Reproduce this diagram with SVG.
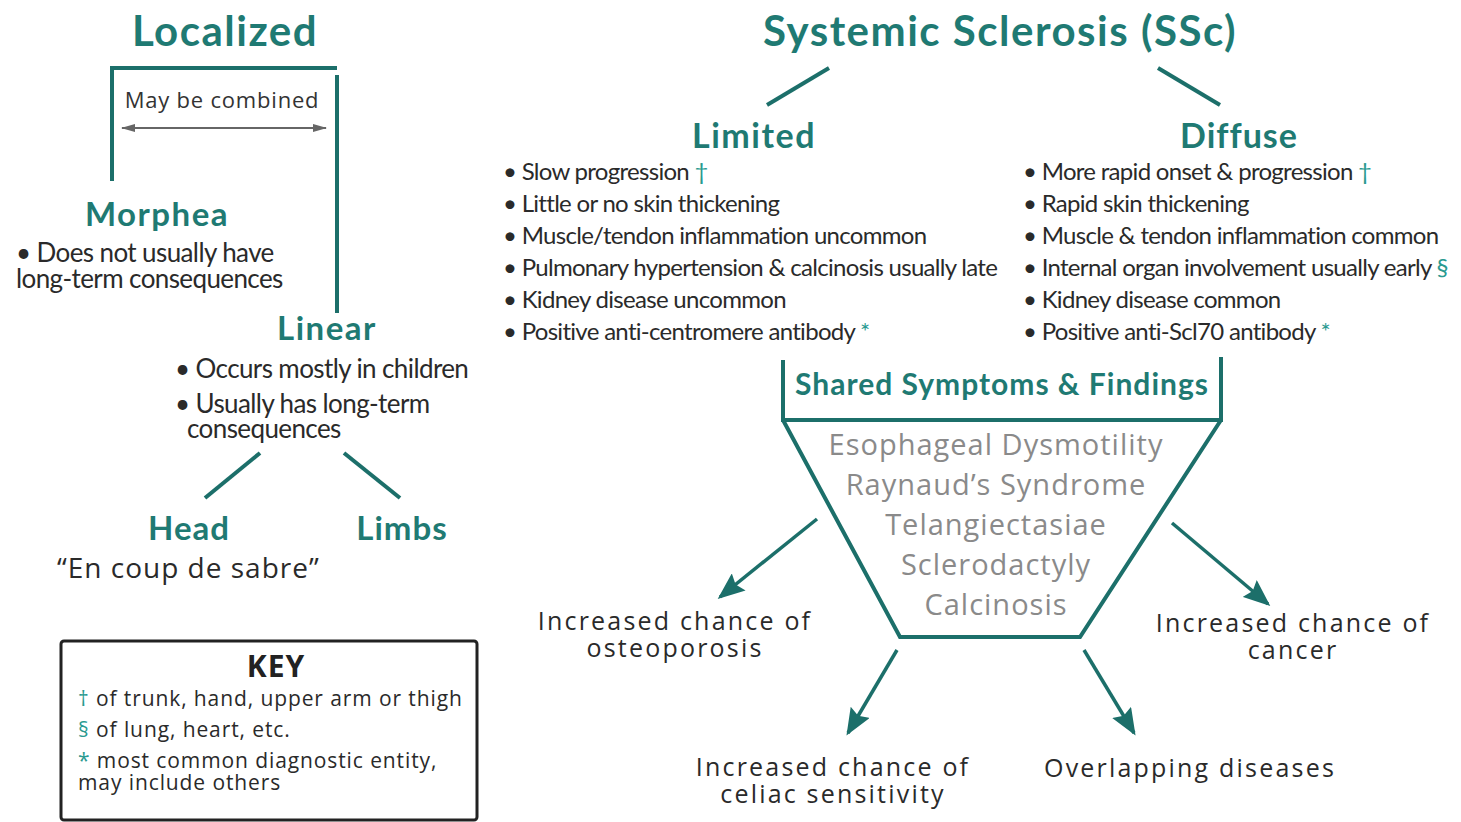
<svg xmlns="http://www.w3.org/2000/svg" width="1461" height="822" viewBox="0 0 1461 822">
<defs>
<style>
.h{font-family:Lato,"Open Sans",sans-serif;font-weight:bold;fill:#1f7a73;text-anchor:middle}
.b{font-family:Lato,"Open Sans",sans-serif;fill:#2a2a2a;font-size:24px;letter-spacing:-0.7px}
.bl{font-family:Lato,"Open Sans",sans-serif;fill:#2a2a2a;font-size:26px;letter-spacing:-0.6px}
.t{font-family:"Open Sans",Lato,sans-serif;fill:#2a2a2a;font-size:25px;letter-spacing:2.2px;text-anchor:middle}
.g{font-family:"Open Sans",Lato,sans-serif;fill:#8a8a8a;font-size:29px;letter-spacing:1px;text-anchor:middle}
.k{font-family:"Open Sans",Lato,sans-serif;fill:#2a2a2a;font-size:21px;letter-spacing:0.9px}
.m{fill:#2a9a90}
.ln{stroke:#1c6f6a;stroke-width:4;fill:none}
.ar{stroke:#1c6f6a;stroke-width:3.5;fill:none;marker-end:url(#ah)}
</style>
<marker id="ah" markerWidth="28" markerHeight="22" refX="24" refY="11" orient="auto" markerUnits="userSpaceOnUse" viewBox="0 0 28 22">
<path d="M0,0 L27,11 L0,22 L4,11 Z" fill="#1c6f6a"/>
</marker>
<marker id="ga" markerWidth="14" markerHeight="10" refX="13" refY="5" orient="auto" markerUnits="userSpaceOnUse">
<path d="M0,1 L14,5 L0,9 Z" fill="#666"/>
</marker>
<marker id="gs" markerWidth="14" markerHeight="10" refX="1" refY="5" orient="auto" markerUnits="userSpaceOnUse">
<path d="M14,1 L0,5 L14,9 Z" fill="#666"/>
</marker>
</defs>
<rect width="1461" height="822" fill="#ffffff"/>

<g id="connectors">
<path class="ln" d="M112,181 V68 H337"/>
<path class="ln" d="M337,75 V313"/>
<line x1="122" y1="128" x2="326" y2="128" stroke="#666" stroke-width="2" marker-start="url(#gs)" marker-end="url(#ga)"/>
<line class="ln" x1="260" y1="453" x2="205" y2="498"/>
<line class="ln" x1="344" y1="453" x2="400" y2="498"/>
<line class="ln" x1="829" y1="68" x2="767" y2="105"/>
<line class="ln" x1="1158" y1="68" x2="1220" y2="105"/>
<line class="ar" x1="817" y1="519" x2="720" y2="597"/>
<line class="ar" x1="1172" y1="523" x2="1268" y2="604"/>
<line class="ar" x1="897" y1="650" x2="848" y2="733"/>
<line class="ar" x1="1084" y1="650" x2="1134" y2="733"/>
</g>

<g id="localized"><text class="h" x="225" y="46" font-size="42" letter-spacing="1.5">Localized</text></g>
<g id="combined"><text x="222" y="108" font-family="'Open Sans',Lato,sans-serif" font-size="22" letter-spacing="0.8" fill="#333" text-anchor="middle">May be combined</text></g>

<g id="morphea">
<text class="h" x="157" y="226" font-size="33" letter-spacing="1.5">Morphea</text>
<text class="bl" x="16" y="262">• Does not usually have</text>
<text class="bl" x="16" y="288">long-term consequences</text>
</g>

<g id="linear">
<text class="h" x="327" y="340" font-size="33" letter-spacing="1.5">Linear</text>
<text class="bl" x="175" y="378">• Occurs mostly in children</text>
<text class="bl" x="175" y="413">• Usually has long-term</text>
<text class="bl" x="187" y="438">consequences</text>
</g>

<g id="head">
<text class="h" x="189" y="540" font-size="33" letter-spacing="1">Head</text>
<text x="57" y="578" font-family="'Open Sans',Lato,sans-serif" font-size="28" letter-spacing="1" fill="#2a2a2a">“En coup de sabre”</text>
</g>
<g id="limbs"><text class="h" x="402" y="540" font-size="33" letter-spacing="1">Limbs</text></g>

<g id="key">
<rect x="61" y="641" width="416" height="179" rx="3" fill="#fff" stroke="#222" stroke-width="3"/>
<text x="276" y="677" font-family="'Open Sans',Lato,sans-serif" font-weight="bold" font-size="30" letter-spacing="1" fill="#222" text-anchor="middle">KEY</text>
<text class="k" x="78" y="706"><tspan class="m">†</tspan> of trunk, hand, upper arm or thigh</text>
<text class="k" x="78" y="737"><tspan class="m">§</tspan> of lung, heart, etc.</text>
<text class="k" x="78" y="768"><tspan class="m">*</tspan> most common diagnostic entity,</text>
<text class="k" x="78" y="790">may include others</text>
</g>

<g id="ssc"><text class="h" x="1000" y="46" font-size="42" letter-spacing="1.5">Systemic Sclerosis (SSc)</text></g>

<g id="limited">
<text class="h" x="754" y="148" font-size="34" letter-spacing="1.5">Limited</text>
<text class="b" x="503" y="180">• Slow progression <tspan class="m">†</tspan></text>
<text class="b" x="503" y="212">• Little or no skin thickening</text>
<text class="b" x="503" y="244">• Muscle/tendon inflammation uncommon</text>
<text class="b" x="503" y="276">• Pulmonary hypertension &amp; calcinosis usually late</text>
<text class="b" x="503" y="308">• Kidney disease uncommon</text>
<text class="b" x="503" y="340">• Positive anti-centromere antibody <tspan class="m">*</tspan></text>
</g>

<g id="diffuse">
<text class="h" x="1239" y="148" font-size="34" letter-spacing="1">Diffuse</text>
<text class="b" x="1023" y="180">• More rapid onset &amp; progression <tspan class="m">†</tspan></text>
<text class="b" x="1023" y="212">• Rapid skin thickening</text>
<text class="b" x="1023" y="244">• Muscle &amp; tendon inflammation common</text>
<text class="b" x="1023" y="276">• Internal organ involvement usually early <tspan class="m">§</tspan></text>
<text class="b" x="1023" y="308">• Kidney disease common</text>
<text class="b" x="1023" y="340">• Positive anti-Scl70 antibody <tspan class="m">*</tspan></text>
</g>

<g id="shared">
<path class="ln" d="M783,360 V420 H1221 V357"/>
<path class="ln" d="M783,420 L900,637 H1080 L1221,420"/>
<text class="h" x="1002" y="395" font-size="30" letter-spacing="1">Shared Symptoms &amp; Findings</text>
<text class="g" x="996" y="455">Esophageal Dysmotility</text>
<text class="g" x="996" y="495">Raynaud’s Syndrome</text>
<text class="g" x="996" y="535">Telangiectasiae</text>
<text class="g" x="996" y="575">Sclerodactyly</text>
<text class="g" x="996" y="615">Calcinosis</text>
</g>

<g id="osteoporosis">
<text class="t" x="675" y="630">Increased chance of</text>
<text class="t" x="675" y="657">osteoporosis</text>
</g>
<g id="cancer">
<text class="t" x="1293" y="632">Increased chance of</text>
<text class="t" x="1293" y="659">cancer</text>
</g>
<g id="celiac">
<text class="t" x="833" y="776">Increased chance of</text>
<text class="t" x="833" y="803">celiac sensitivity</text>
</g>
<g id="overlap"><text class="t" x="1190" y="777">Overlapping diseases</text></g>
</svg>
